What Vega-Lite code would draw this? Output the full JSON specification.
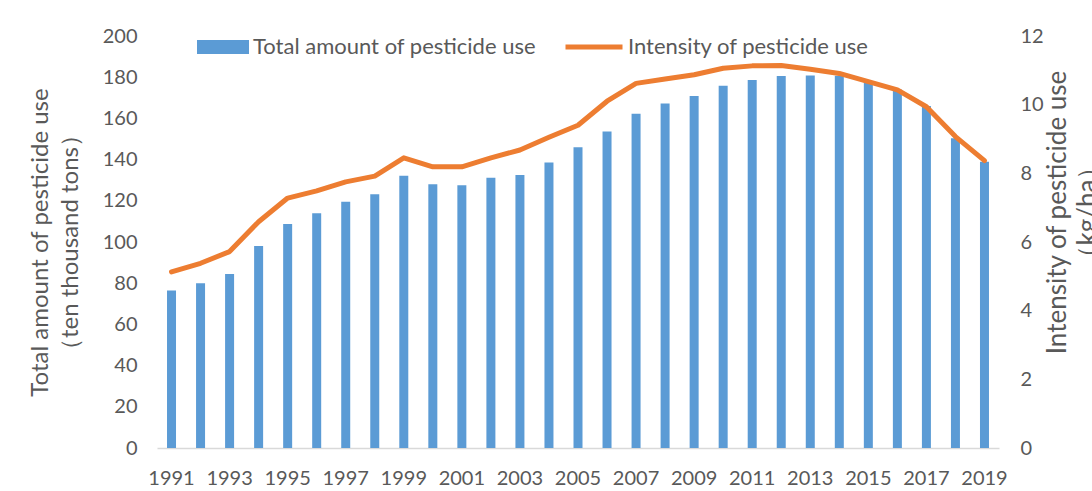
{
  "$schema": "https://vega.github.io/schema/vega-lite/v6.json",
  "width": 842,
  "height": 412,
  "autosize": {"type": "none"},
  "padding": {"left": 157, "top": 36, "right": 93, "bottom": 43},
  "background": "white",
  "config": {
    "view": {"stroke": null},
    "font": "Lato",
    "axis": {
      "labelFont": "Lato",
      "titleFont": "Lato",
      "labelColor": "#595959",
      "titleColor": "#595959",
      "labelFontSize": 20,
      "titleFontSize": 24,
      "titleFontWeight": "normal",
      "grid": false,
      "ticks": false,
      "tickSize": 0
    },
    "legend": {
      "labelFont": "Lato",
      "labelColor": "#595959",
      "labelFontSize": 22,
      "labelLimit": 400,
      "padding": 0,
      "title": null
    }
  },
  "data": {
    "values": [
      {"year": 1991, "amount": 76.5, "intensity": 5.13},
      {"year": 1992, "amount": 80.0, "intensity": 5.38},
      {"year": 1993, "amount": 84.5, "intensity": 5.72},
      {"year": 1994, "amount": 98.0, "intensity": 6.59},
      {"year": 1995, "amount": 108.7, "intensity": 7.28},
      {"year": 1996, "amount": 114.0, "intensity": 7.49},
      {"year": 1997, "amount": 119.5, "intensity": 7.75},
      {"year": 1998, "amount": 123.2, "intensity": 7.92},
      {"year": 1999, "amount": 132.2, "intensity": 8.45},
      {"year": 2000, "amount": 128.0, "intensity": 8.19},
      {"year": 2001, "amount": 127.5, "intensity": 8.19},
      {"year": 2002, "amount": 131.2, "intensity": 8.45},
      {"year": 2003, "amount": 132.5, "intensity": 8.68},
      {"year": 2004, "amount": 138.6, "intensity": 9.05},
      {"year": 2005, "amount": 146.0, "intensity": 9.4},
      {"year": 2006, "amount": 153.7, "intensity": 10.1},
      {"year": 2007, "amount": 162.3, "intensity": 10.62},
      {"year": 2008, "amount": 167.2, "intensity": 10.75},
      {"year": 2009, "amount": 170.9, "intensity": 10.87},
      {"year": 2010, "amount": 175.8, "intensity": 11.06},
      {"year": 2011, "amount": 178.7, "intensity": 11.13},
      {"year": 2012, "amount": 180.6, "intensity": 11.14},
      {"year": 2013, "amount": 180.8, "intensity": 11.03},
      {"year": 2014, "amount": 180.7, "intensity": 10.91},
      {"year": 2015, "amount": 178.0, "intensity": 10.67},
      {"year": 2016, "amount": 174.0, "intensity": 10.43},
      {"year": 2017, "amount": 166.0, "intensity": 9.94},
      {"year": 2018, "amount": 150.4, "intensity": 9.07},
      {"year": 2019, "amount": 139.0, "intensity": 8.37}
    ]
  },
  "encoding": {
    "x": {
      "field": "year",
      "type": "ordinal",
      "scale": {"paddingInner": 0.69, "paddingOuter": 0.345},
      "axis": {
        "title": null,
        "labelAngle": 0,
        "values": [1991, 1993, 1995, 1997, 1999, 2001, 2003, 2005, 2007, 2009, 2011, 2013, 2015, 2017, 2019],
        "domainColor": "#d9d9d9",
        "domainWidth": 1.5,
        "labelPadding": 20
      }
    }
  },
  "layer": [
    {
      "mark": {"type": "bar", "width": 9},
      "encoding": {
        "y": {
          "field": "amount",
          "type": "quantitative",
          "scale": {"domain": [0, 200], "nice": false},
          "axis": {
            "orient": "left",
            "values": [0, 20, 40, 60, 80, 100, 120, 140, 160, 180, 200],
            "domain": false,
            "labelPadding": 20,
            "title": ["Total amount of pesticide use", "（ten thousand tons）"],
            "titleLineHeight": 30,
            "titlePadding": 20
          }
        },
        "fill": {
          "datum": "Total amount of pesticide use",
          "scale": {"range": ["#5b9bd5"]},
          "legend": {
            "orient": "none",
            "legendX": 40,
            "legendY": -15,
            "symbolType": "M-1,-0.27L1,-0.27L1,0.27L-1,0.27Z",
            "symbolSize": 2704,
            "symbolStrokeWidth": 0,
            "labelOffset": 4
          }
        }
      }
    },
    {
      "mark": {"type": "line", "strokeWidth": 5, "strokeCap": "round", "strokeJoin": "round"},
      "encoding": {
        "y": {
          "field": "intensity",
          "type": "quantitative",
          "scale": {"domain": [0, 12], "nice": false},
          "axis": {
            "orient": "right",
            "values": [0, 2, 4, 6, 8, 10, 12],
            "domain": false,
            "labelPadding": 21,
            "title": ["Intensity of pesticide use", "（kg/ha）\u00a0\u00a0\u00a0\u00a0\u00a0\u00a0\u00a0\u00a0\u00a0\u00a0\u00a0\u00a0"],
            "titleFontSize": 26,
            "titleAngle": -90,
            "titleBaseline": "top",
            "titleLineHeight": 30,
            "titleX": 45,
            "titleY": 176
          }
        },
        "stroke": {
          "datum": "Intensity of pesticide use",
          "scale": {"range": ["#ed7d31"]},
          "legend": {
            "orient": "none",
            "legendX": 406,
            "legendY": -20,
            "symbolType": "stroke",
            "symbolSize": 3249,
            "symbolStrokeWidth": 5,
            "labelOffset": 3
          }
        }
      }
    }
  ],
  "resolve": {"scale": {"y": "independent"}}
}
